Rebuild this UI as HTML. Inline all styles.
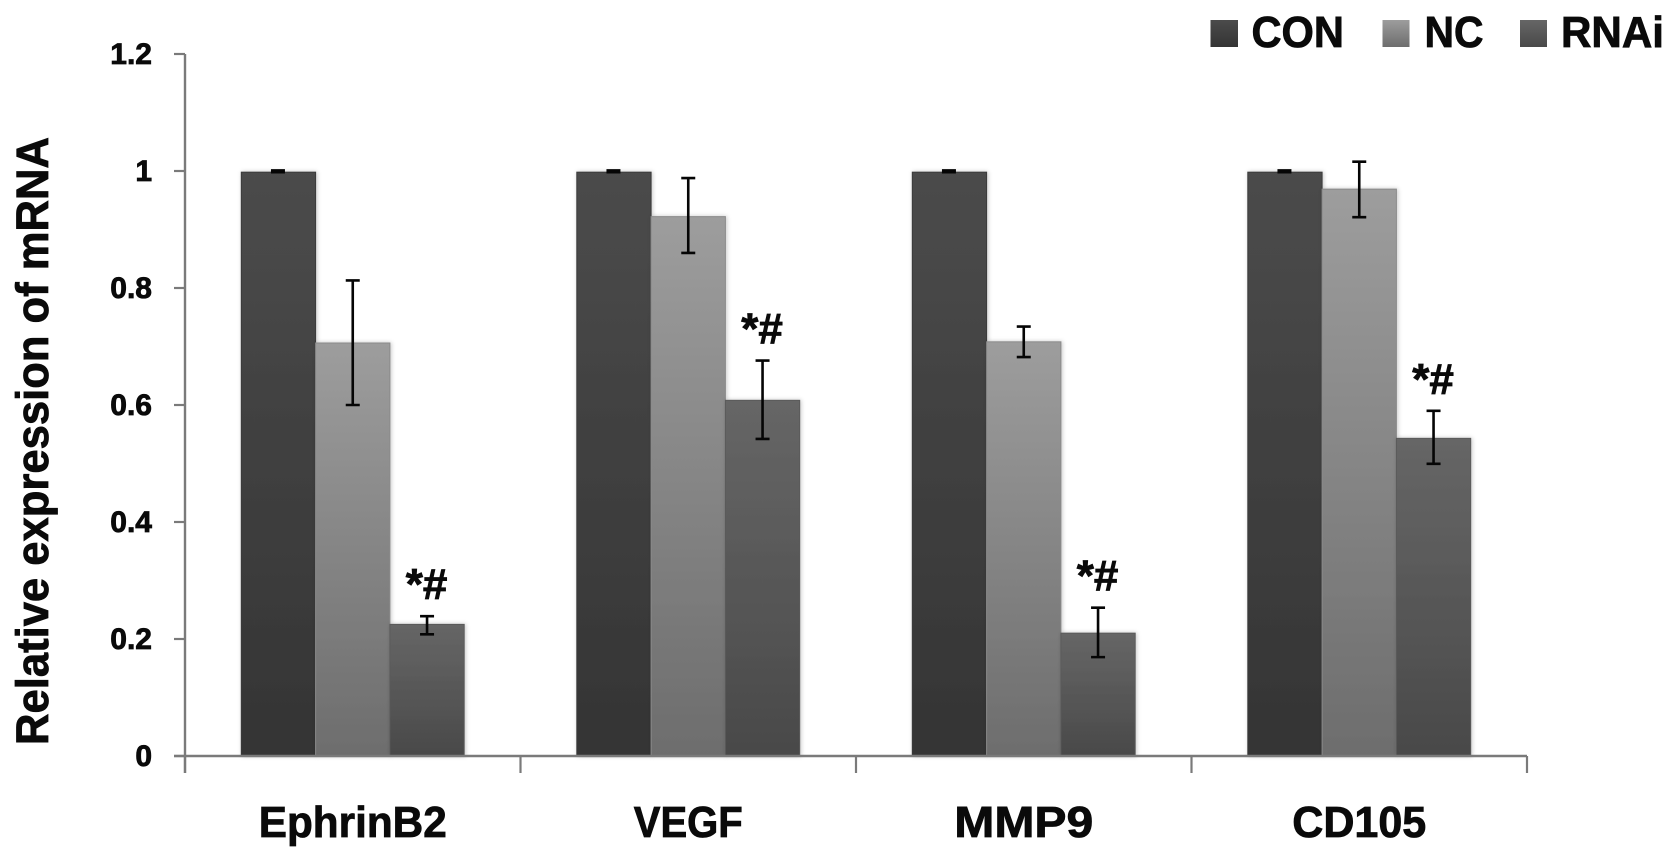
<!DOCTYPE html>
<html lang="en">
<head>
<meta charset="utf-8">
<title>Relative expression of mRNA</title>
<style>
  html, body { margin: 0; padding: 0; background: #fff; }
  body { width: 1677px; height: 859px; overflow: hidden; }
  svg { display: block; }
  text { font-family: "Liberation Sans", Arial, sans-serif; font-weight: 700; fill: #0a0a0a; stroke: #0a0a0a; stroke-width: 0.8px; }
</style>
</head>
<body>
<svg id="chart" xmlns="http://www.w3.org/2000/svg" width="1677" height="859" viewBox="0 0 1677 859">
  <defs>
    <linearGradient id="grad-con" x1="0" y1="0" x2="0" y2="1">
      <stop offset="0" stop-color="#4b4b4b"/><stop offset="1" stop-color="#343434"/>
    </linearGradient>
    <linearGradient id="grad-nc" x1="0" y1="0" x2="0" y2="1">
      <stop offset="0" stop-color="#9d9d9d"/><stop offset="1" stop-color="#6d6d6d"/>
    </linearGradient>
    <linearGradient id="grad-rnai" x1="0" y1="0" x2="0" y2="1">
      <stop offset="0" stop-color="#666666"/><stop offset="1" stop-color="#494949"/>
    </linearGradient>
    <filter id="bar-shadow" x="-10%" y="-5%" width="120%" height="110%">
      <feDropShadow dx="1" dy="0" stdDeviation="2" flood-color="#000" flood-opacity="0.22"/>
    </filter>
  </defs>

  <g>
    <rect x="1210.5" y="20" width="27.5" height="27" fill="url(#grad-con)"/>
    <text x="1251.5" y="47" font-size="44" textLength="92.5" lengthAdjust="spacingAndGlyphs">CON</text>
    <rect x="1382.5" y="20" width="27" height="27" fill="url(#grad-nc)"/>
    <text x="1424.5" y="47" font-size="44" textLength="59" lengthAdjust="spacingAndGlyphs">NC</text>
    <rect x="1520" y="20" width="27" height="27" fill="url(#grad-rnai)"/>
    <text x="1561" y="47" font-size="44" textLength="103" lengthAdjust="spacingAndGlyphs">RNAi</text>
  </g>

  <text transform="translate(48,745) rotate(-90)" font-size="45" textLength="608" lengthAdjust="spacingAndGlyphs">Relative expression of mRNA</text>

  <g id="bars"></g>
  <g id="axes"></g>
  <g id="errors"></g>
  <g id="annotations"></g>
</svg>

<script>
const categories = ['EphrinB2', 'VEGF', 'MMP9', 'CD105'];
const seriesNames = ['CON', 'NC', 'RNAi'];
const conValues = [0.998, 0.998, 0.998, 0.998];
const ncValues = [0.706, 0.922, 0.708, 0.969];
const rnaiValues = [0.225, 0.608, 0.21, 0.543];
const conUpper = [1.001, 1.001, 1.001, 1.001];
const conLower = [0.998, 0.998, 0.998, 0.998];
const ncUpper = [0.813, 0.988, 0.734, 1.016];
const ncLower = [0.6, 0.86, 0.682, 0.921];
const rnaiUpper = [0.239, 0.676, 0.2535, 0.59];
const rnaiLower = [0.208, 0.542, 0.169, 0.4995];
const yTickValues = [0, 0.2, 0.4, 0.6, 0.8, 1, 1.2];
const yTickLabels = ['0', '0.2', '0.4', '0.6', '0.8', '1', '1.2'];
const markerText = ['*#', '*#', '*#', '*#'];

const plotLeft = 185, plotRight = 1527, plotBottom = 756, plotTop = 54;
const yMax = 1.2;
const barWidth = 74.3;
const axisColor = '#7a7a7a';
const labelWidthFit = { EphrinB2: 188, VEGF: 109, MMP9: 139, CD105: 134 };

const NS = 'http://www.w3.org/2000/svg';
function yScale(v) { return plotBottom - (v / yMax) * (plotBottom - plotTop); }
function bandCenter(i) { return plotLeft + (plotRight - plotLeft) * (i + 0.5) / categories.length; }
function barLeft(i, s) { return bandCenter(i) + (s - seriesNames.length / 2) * barWidth; }
function make(tag, attrs, parent, text) {
  const el = document.createElementNS(NS, tag);
  for (const k in attrs) el.setAttribute(k, attrs[k]);
  if (text !== undefined) el.textContent = text;
  parent.appendChild(el);
  return el;
}

const barsGroup = document.getElementById('bars');
const axesGroup = document.getElementById('axes');
const errorsGroup = document.getElementById('errors');
const annotationsGroup = document.getElementById('annotations');

const seriesValues = [conValues, ncValues, rnaiValues];
const seriesUpper = [conUpper, ncUpper, rnaiUpper];
const seriesLower = [conLower, ncLower, rnaiLower];
const seriesGradients = ['url(#grad-con)', 'url(#grad-nc)', 'url(#grad-rnai)'];
const seriesStrokes = ['#3a3a3a', '#8a8a8a', '#5a5a5a'];

seriesNames.forEach(function (name, s) {
  categories.forEach(function (cat, i) {
    const top = yScale(seriesValues[s][i]);
    const bar = make('rect', {
      x: barLeft(i, s), y: top, width: barWidth, height: plotBottom - top,
      fill: seriesGradients[s], stroke: seriesStrokes[s], 'stroke-width': 1, filter: 'url(#bar-shadow)'
    }, barsGroup);
    
    

    const cx = barLeft(i, s) + barWidth / 2 + (s === 0 ? -0.5 : 0);
    const yUp = yScale(seriesUpper[s][i]);
    const yLo = yScale(seriesLower[s][i]);
    const err = make('path', {
      d: 'M' + (cx - 7) + ' ' + yUp + 'H' + (cx + 7) + 'M' + cx + ' ' + yUp + 'V' + yLo + 'M' + (cx - 7) + ' ' + yLo + 'H' + (cx + 7),
      fill: 'none', stroke: '#050505', 'stroke-width': 2.6
    }, errorsGroup);
    
    
  });
});

const yAxisLine = make('line', { x1: plotLeft, y1: plotTop, x2: plotLeft, y2: plotBottom + 17, stroke: axisColor, 'stroke-width': 2.4 }, axesGroup);



const xAxisLine = make('line', { x1: plotLeft - 11, y1: plotBottom, x2: plotRight, y2: plotBottom, stroke: axisColor, 'stroke-width': 2.4 }, axesGroup);



yTickValues.forEach(function (v, i) {
  const y = yScale(v);
  const tick = make('line', { x1: plotLeft - 11, y1: y, x2: plotLeft, y2: y, stroke: axisColor, 'stroke-width': 2.2 }, axesGroup);
  
  
  const label = make('text', { x: 152, y: y + 10, 'font-size': 30, 'text-anchor': 'end' }, axesGroup, yTickLabels[i]);
  
  
});

for (let i = 0; i <= categories.length; i++) {
  const x = plotLeft + (plotRight - plotLeft) * i / categories.length;
  const tick = make('line', { x1: x, y1: plotBottom, x2: x, y2: plotBottom + 17, stroke: axisColor, 'stroke-width': 2.2 }, axesGroup);
  
  
}

categories.forEach(function (cat, i) {
  const label = make('text', {
    x: bandCenter(i), y: 837, 'font-size': 44, 'text-anchor': 'middle',
    textLength: labelWidthFit[cat], lengthAdjust: 'spacingAndGlyphs'
  }, axesGroup, cat);
  
  

  const marker = make('text', {
    x: barLeft(i, 2) + barWidth / 2 - 0.5, y: yScale(rnaiUpper[i]) - 17,
    'font-size': 44, 'text-anchor': 'middle'
  }, annotationsGroup, markerText[i]);
  
  
});
</script>
</body>
</html>
